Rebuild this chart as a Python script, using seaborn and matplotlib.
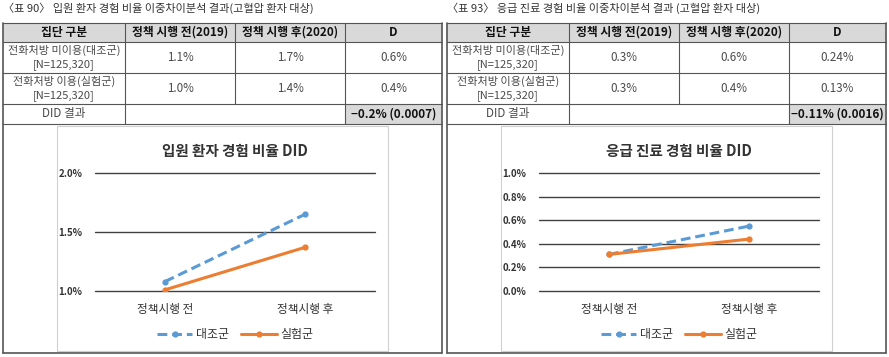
import pandas as pd
import numpy as np
import matplotlib.pyplot as plt
import matplotlib.ticker as mticker
import seaborn as sns

sns.set_theme(style="white")
plt.rcParams['font.family'] = ['Noto Sans CJK KR', 'DejaVu Sans']

# table data
table_titles = ["〈표 90〉 입원 환자 경험 비율 이중차이분석 결과(고혈압 환자 대상)",
                "〈표 93〉 응급 진료 경험 비율 이중차이분석 결과 (고혈압 환자 대상)"]
header = ["집단 구분", "정책 시행 전(2019)", "정책 시행 후(2020)", "D"]
groups = ["전화처방 미이용(대조군)\n[N=125,320]", "전화처방 이용(실험군)\n[N=125,320]"]
inpatient_rows = [["1.1%", "1.7%", "0.6%"], ["1.0%", "1.4%", "0.4%"]]
emergency_rows = [["0.3%", "0.6%", "0.24%"], ["0.3%", "0.4%", "0.13%"]]
did_results = ["−0.2% (0.0007)", "−0.11% (0.0016)"]

# chart data
chart_titles = ["입원 환자 경험 비율 DID", "응급 진료 경험 비율 DID"]
periods = ["정책시행 전", "정책시행 후"]
series = ["대조군", "실험군"]
inpatient_ctrl = [1.08, 1.65]
inpatient_trt = [1.01, 1.37]
emergency_ctrl = [0.31, 0.55]
emergency_trt = [0.31, 0.44]

W, H = 889, 357
fig = plt.figure(figsize=(W / 100, H / 100), dpi=100)
bg = fig.add_axes([0, 0, 1, 1])
bg.set_xlim(0, W)
bg.set_ylim(H, 0)
bg.axis("off")

col_x = [0, 122, 232, 342, 439]
row_y = [23, 42, 73, 104, 124, 353]
line_c = "#555555"
gray = "#d9d9d9"
txt_c = "#4a4a4a"


def draw_table(x0, title, rows, did):
    xs = [x0 + 3 + c for c in col_x]
    bg.text(x0 + 3, 8, title, fontsize=8, color="#333333", va="center")
    # header background
    bg.add_patch(plt.Rectangle((xs[0], row_y[0]), xs[-1] - xs[0], row_y[1] - row_y[0],
                               color=gray, lw=0))
    bg.add_patch(plt.Rectangle((xs[3], row_y[3]), xs[4] - xs[3], row_y[4] - row_y[3],
                               color=gray, lw=0))
    # horizontal lines
    for y in row_y[:5]:
        bg.plot([xs[0], xs[-1]], [y, y], color=line_c, lw=0.8)
    bg.plot([xs[0], xs[-1]], [row_y[5], row_y[5]], color=line_c, lw=1.2)
    # outer verticals
    for x in (xs[0], xs[-1]):
        bg.plot([x, x], [row_y[0], row_y[5]], color=line_c, lw=1.2)
    for x in xs[1:-1]:
        bg.plot([x, x], [row_y[0], row_y[3]], color=line_c, lw=0.8)
    for x in (xs[1], xs[3]):
        bg.plot([x, x], [row_y[3], row_y[4]], color=line_c, lw=0.8)
    # inner chart box
    bg.add_patch(plt.Rectangle((x0 + 57, 126), 331, 225, fill=False,
                               edgecolor="#d0d0d0", lw=0.8))
    for i, h in enumerate(header):
        bg.text((xs[i] + xs[i + 1]) / 2, (row_y[0] + row_y[1]) / 2, h,
                fontsize=8.5, fontweight="bold", ha="center", va="center", color="#111111")
    for r in range(2):
        yc = (row_y[r + 1] + row_y[r + 2]) / 2
        bg.text((xs[0] + xs[1]) / 2, yc, groups[r], fontsize=8, ha="center", va="center",
                color=txt_c, linespacing=1.3)
        for c in range(3):
            bg.text((xs[c + 1] + xs[c + 2]) / 2, yc, rows[r][c], fontsize=8.4,
                    ha="center", va="center", color=txt_c)
    yc = (row_y[3] + row_y[4]) / 2
    bg.text((xs[0] + xs[1]) / 2, yc, "DID 결과", fontsize=8.4, ha="center", va="center", color=txt_c)
    bg.text((xs[3] + xs[4]) / 2, yc, did, fontsize=8.4, fontweight="bold",
            ha="center", va="center", color="#111111")


def draw_chart(x0, title, ctrl, trt, ylim, yticks):
    ax = fig.add_axes([(x0 + 95) / W, (H - 291) / H, 280 / W, 118 / H])
    df = pd.DataFrame({
        "period": periods * 2,
        "value": ctrl + trt,
        "group": [series[0]] * 2 + [series[1]] * 2,
    })
    sns.lineplot(data=df, x="period", y="value", hue="group", style="group", ax=ax,
                 palette=["#5b9bd5", "#ed7d31"], markers=["o", "o"],
                 dashes=[(3.2, 1.6), ""], lw=2.2, markersize=4.5, markeredgewidth=0)
    ax.set_xlim(-0.5, 1.5)
    ax.set_ylim(*ylim)
    ax.set_yticks(yticks)
    ax.yaxis.set_major_formatter(mticker.FuncFormatter(lambda v, p: f"{v:.1f}%"))
    for y in yticks:
        ax.axhline(y, color="#404040", lw=1.0, zorder=0, clip_on=False)
    sns.despine(ax=ax, left=True, bottom=True, top=True, right=True)
    ax.set_xlabel("")
    ax.set_ylabel("")
    ax.tick_params(axis="y", length=0, labelsize=7, pad=9)
    ax.tick_params(axis="x", length=0, labelsize=8.4, pad=9)
    for t in ax.get_yticklabels():
        t.set_fontweight("bold")
        t.set_color("#333333")
    for t in ax.get_xticklabels():
        t.set_color("#333333")
    ax.set_title(title, fontsize=10.5, fontweight="bold", color="#333333", pad=0, y=1.14)
    ax.patch.set_alpha(0)
    ax.legend(loc="center", bbox_to_anchor=(0.5, -0.37), ncol=2, frameon=False,
              fontsize=8.6, handlelength=3.0, columnspacing=1.0, handletextpad=0.3,
              labelcolor="#333333")


draw_table(0, table_titles[0], inpatient_rows, did_results[0])
draw_table(444, table_titles[1], emergency_rows, did_results[1])
draw_chart(0, chart_titles[0], inpatient_ctrl, inpatient_trt, (1.0, 2.0), [1.0, 1.5, 2.0])
draw_chart(444, chart_titles[1], emergency_ctrl, emergency_trt, (0.0, 1.0),
           [0.0, 0.2, 0.4, 0.6, 0.8, 1.0])

fig.savefig("out.png", dpi=100)
